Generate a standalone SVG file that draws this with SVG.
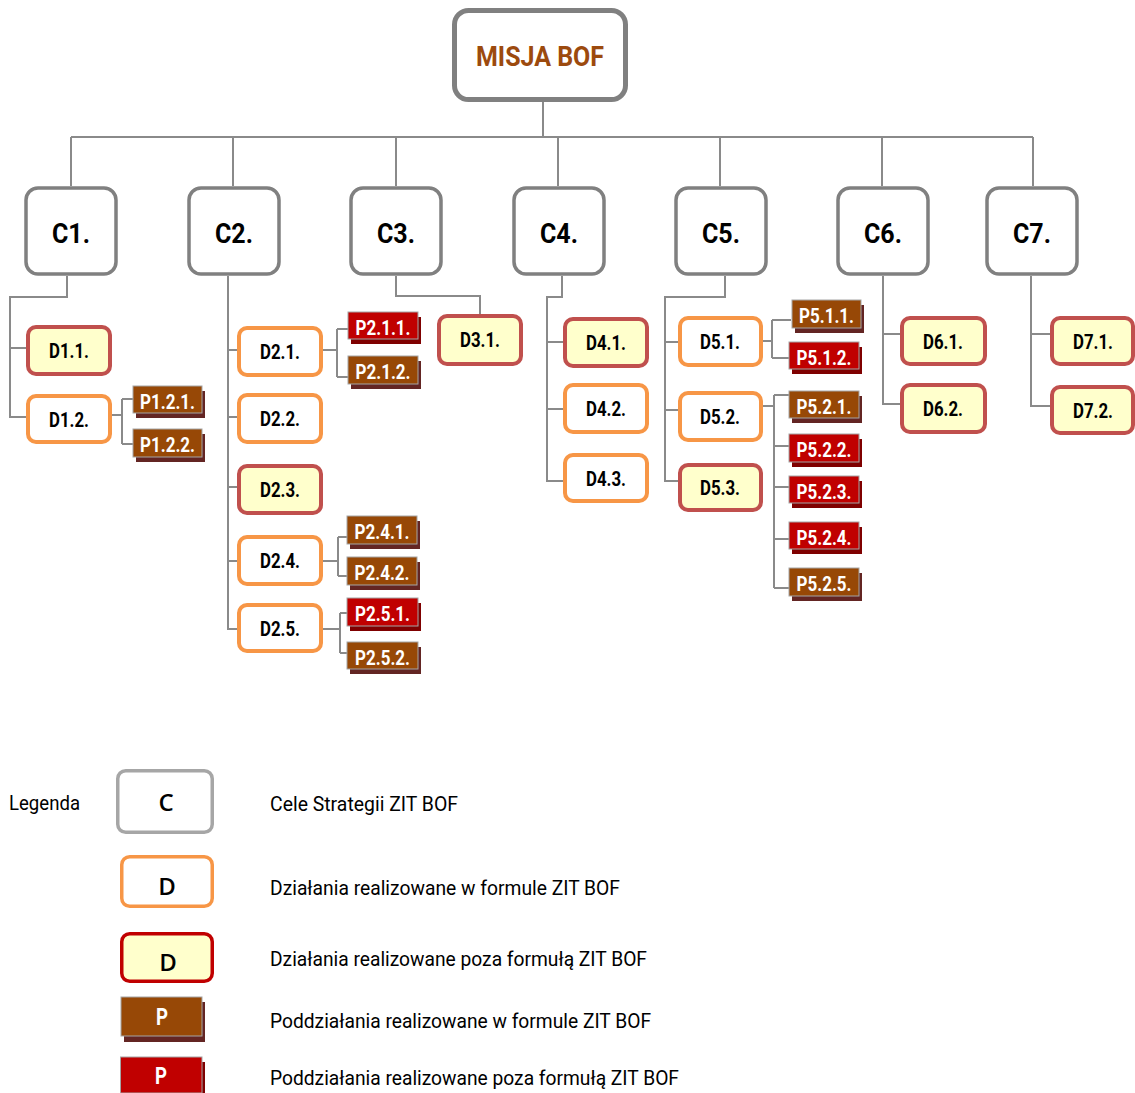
<svg xmlns="http://www.w3.org/2000/svg" width="1135" height="1093" viewBox="0 0 1135 1093">
<style>
  .conn { fill: none; stroke: #8a8a8a; stroke-width: 2; }
  .cbox { fill: #ffffff; stroke: #808080; stroke-width: 3.5; }
  .dor { fill: #ffffff; stroke: #F79646; stroke-width: 4; }
  .drd { fill: #FFFFCC; stroke: #C0504D; stroke-width: 4; }
  .pbr { fill: #974806; stroke: #A5A5A5; stroke-width: 1; }
  .prd { fill: #C00000; stroke: #A5A5A5; stroke-width: 1; }
  .sbr { fill: #632523; }
  .srd { fill: #7F0000; }
  .ct { font-family: Roboto, "Liberation Sans", sans-serif; font-weight: bold; font-size: 28px; fill: #000; text-anchor: middle; }
  .dt { font-family: Roboto, "Liberation Sans", sans-serif; font-weight: bold; font-size: 20px; fill: #000; text-anchor: middle; }
  .pt { font-family: Roboto, "Liberation Sans", sans-serif; font-weight: bold; font-size: 20px; fill: #fff; text-anchor: middle; }
  .ptl { font-family: Roboto, "Liberation Sans", sans-serif; font-weight: bold; font-size: 23px; fill: #fff; text-anchor: middle; }
  .lt { font-family: Roboto, "Liberation Sans", sans-serif; font-size: 21px; fill: #000; }
  .lg { font-family: "Open Sans", "DejaVu Sans", sans-serif; font-weight: 600; font-size: 24px; fill: #000; text-anchor: middle; }
</style>

<g id="connectors">
  <path class="conn" d="M543 101 V137 M71 137 H1033 M71 137 V186 M233 137 V186 M396 137 V186 M558 137 V186 M720 137 V186 M882 137 V186 M1033 137 V186"/>
  <path class="conn" d="M67 276 V297 H10 V417 H26 M10 348 H26"/>
  <path class="conn" d="M111 415 H122 M122 399 V444 M122 399 H133 M122 444 H133"/>
  <path class="conn" d="M228 276 V629 H237 M228 350 H237 M228 417 H237 M228 487 H237 M228 561 H237"/>
  <path class="conn" d="M323 350 H337 M337 329 V377 M337 329 H348 M337 377 H348"/>
  <path class="conn" d="M323 561 H338 M338 537 V576 M338 537 H347 M338 576 H347"/>
  <path class="conn" d="M323 629 H340 M340 613 V653 M340 613 H347 M340 653 H347"/>
  <path class="conn" d="M396 276 V296 H480 V314"/>
  <path class="conn" d="M562 276 V297 H547 V481 H563 M547 342 H563 M547 409 H563"/>
  <path class="conn" d="M725 276 V297 H665 V481 H678 M665 342 H678 M665 410 H678"/>
  <path class="conn" d="M763 341 H772 M772 320 V358 M772 320 H791 M772 358 H789"/>
  <path class="conn" d="M763 406 H774 M774 395 V588 M774 395 H789 M774 446 H789 M774 487 H789 M774 539 H789 M774 588 H789"/>
  <path class="conn" d="M883 276 V404 H900 M883 334 H900"/>
  <path class="conn" d="M1031 276 V406 H1050 M1031 334 H1050"/>
</g>

<g id="misja">
  <rect x="454.5" y="10.5" width="171" height="89" rx="14" fill="#fff" stroke="#808080" stroke-width="5"/>
  <text x="540" y="66" font-family="Roboto, 'Liberation Sans', sans-serif" font-weight="bold" font-size="28" fill="#9C4A0E" text-anchor="middle" textLength="128" lengthAdjust="spacingAndGlyphs">MISJA BOF</text>
</g>

<g id="C1"><rect class="cbox" x="26" y="188" width="90" height="86" rx="12"/><text class="ct" x="71" y="243" textLength="38" lengthAdjust="spacingAndGlyphs">C1.</text></g>
<g id="C2"><rect class="cbox" x="189" y="188" width="90" height="86" rx="12"/><text class="ct" x="234" y="243" textLength="38" lengthAdjust="spacingAndGlyphs">C2.</text></g>
<g id="C3"><rect class="cbox" x="351" y="188" width="90" height="86" rx="12"/><text class="ct" x="396" y="243" textLength="38" lengthAdjust="spacingAndGlyphs">C3.</text></g>
<g id="C4"><rect class="cbox" x="514" y="188" width="90" height="86" rx="12"/><text class="ct" x="559" y="243" textLength="38" lengthAdjust="spacingAndGlyphs">C4.</text></g>
<g id="C5"><rect class="cbox" x="676" y="188" width="90" height="86" rx="12"/><text class="ct" x="721" y="243" textLength="38" lengthAdjust="spacingAndGlyphs">C5.</text></g>
<g id="C6"><rect class="cbox" x="838" y="188" width="90" height="86" rx="12"/><text class="ct" x="883" y="243" textLength="38" lengthAdjust="spacingAndGlyphs">C6.</text></g>
<g id="C7"><rect class="cbox" x="987" y="188" width="90" height="86" rx="12"/><text class="ct" x="1032" y="243" textLength="38" lengthAdjust="spacingAndGlyphs">C7.</text></g>

<g id="D1.1"><rect class="drd" x="28" y="327" width="82" height="47" rx="8"/><text class="dt" x="69" y="358" textLength="40" lengthAdjust="spacingAndGlyphs">D1.1.</text></g>
<g id="D1.2"><rect class="dor" x="28" y="396" width="82" height="46" rx="8"/><text class="dt" x="69" y="427" textLength="40" lengthAdjust="spacingAndGlyphs">D1.2.</text></g>
<g id="D2.1"><rect class="dor" x="239" y="328" width="82" height="47" rx="8"/><text class="dt" x="280" y="359" textLength="40" lengthAdjust="spacingAndGlyphs">D2.1.</text></g>
<g id="D2.2"><rect class="dor" x="239" y="395" width="82" height="47" rx="8"/><text class="dt" x="280" y="426" textLength="40" lengthAdjust="spacingAndGlyphs">D2.2.</text></g>
<g id="D2.3"><rect class="drd" x="239" y="466" width="82" height="47" rx="8"/><text class="dt" x="280" y="497" textLength="40" lengthAdjust="spacingAndGlyphs">D2.3.</text></g>
<g id="D2.4"><rect class="dor" x="239" y="537" width="82" height="47" rx="8"/><text class="dt" x="280" y="568" textLength="40" lengthAdjust="spacingAndGlyphs">D2.4.</text></g>
<g id="D2.5"><rect class="dor" x="239" y="605" width="82" height="46" rx="8"/><text class="dt" x="280" y="636" textLength="40" lengthAdjust="spacingAndGlyphs">D2.5.</text></g>
<g id="D3.1"><rect class="drd" x="439" y="316" width="82" height="48" rx="8"/><text class="dt" x="480" y="347" textLength="40" lengthAdjust="spacingAndGlyphs">D3.1.</text></g>
<g id="D4.1"><rect class="drd" x="565" y="319" width="82" height="47" rx="8"/><text class="dt" x="606" y="350" textLength="40" lengthAdjust="spacingAndGlyphs">D4.1.</text></g>
<g id="D4.2"><rect class="dor" x="565" y="385" width="82" height="47" rx="8"/><text class="dt" x="606" y="416" textLength="40" lengthAdjust="spacingAndGlyphs">D4.2.</text></g>
<g id="D4.3"><rect class="dor" x="565" y="455" width="82" height="46" rx="8"/><text class="dt" x="606" y="486" textLength="40" lengthAdjust="spacingAndGlyphs">D4.3.</text></g>
<g id="D5.1"><rect class="dor" x="680" y="318" width="81" height="47" rx="8"/><text class="dt" x="720" y="349" textLength="40" lengthAdjust="spacingAndGlyphs">D5.1.</text></g>
<g id="D5.2"><rect class="dor" x="680" y="393" width="81" height="47" rx="8"/><text class="dt" x="720" y="424" textLength="40" lengthAdjust="spacingAndGlyphs">D5.2.</text></g>
<g id="D5.3"><rect class="drd" x="680" y="465" width="81" height="45" rx="8"/><text class="dt" x="720" y="495" textLength="40" lengthAdjust="spacingAndGlyphs">D5.3.</text></g>
<g id="D6.1"><rect class="drd" x="902" y="318" width="83" height="46" rx="8"/><text class="dt" x="943" y="349" textLength="40" lengthAdjust="spacingAndGlyphs">D6.1.</text></g>
<g id="D6.2"><rect class="drd" x="902" y="385" width="83" height="47" rx="8"/><text class="dt" x="943" y="416" textLength="40" lengthAdjust="spacingAndGlyphs">D6.2.</text></g>
<g id="D7.1"><rect class="drd" x="1052" y="318" width="81" height="46" rx="8"/><text class="dt" x="1093" y="349" textLength="40" lengthAdjust="spacingAndGlyphs">D7.1.</text></g>
<g id="D7.2"><rect class="drd" x="1052" y="387" width="81" height="46" rx="8"/><text class="dt" x="1093" y="418" textLength="40" lengthAdjust="spacingAndGlyphs">D7.2.</text></g>

<g id="P1.2.1"><rect class="sbr" x="136" y="391" width="69" height="27"/><rect class="pbr" x="133" y="386" width="69" height="27"/><text class="pt" x="167.5" y="408.5" textLength="55" lengthAdjust="spacingAndGlyphs">P1.2.1.</text></g>
<g id="P1.2.2"><rect class="sbr" x="136" y="434" width="69" height="28"/><rect class="pbr" x="133" y="429" width="69" height="28"/><text class="pt" x="167.5" y="451.5" textLength="55" lengthAdjust="spacingAndGlyphs">P1.2.2.</text></g>
<g id="P2.1.1"><rect class="srd" x="351" y="317" width="70" height="27"/><rect class="prd" x="348" y="312" width="70" height="27"/><text class="pt" x="383" y="334.5" textLength="55" lengthAdjust="spacingAndGlyphs">P2.1.1.</text></g>
<g id="P2.1.2"><rect class="sbr" x="351" y="361" width="70" height="28"/><rect class="pbr" x="348" y="356" width="70" height="28"/><text class="pt" x="383" y="378.5" textLength="55" lengthAdjust="spacingAndGlyphs">P2.1.2.</text></g>
<g id="P2.4.1"><rect class="sbr" x="350" y="521" width="70" height="28"/><rect class="pbr" x="347" y="516" width="70" height="28"/><text class="pt" x="382" y="538.5" textLength="55" lengthAdjust="spacingAndGlyphs">P2.4.1.</text></g>
<g id="P2.4.2"><rect class="sbr" x="350" y="562" width="70" height="28"/><rect class="pbr" x="347" y="557" width="70" height="28"/><text class="pt" x="382" y="579.5" textLength="55" lengthAdjust="spacingAndGlyphs">P2.4.2.</text></g>
<g id="P2.5.1"><rect class="srd" x="350" y="603" width="71" height="28"/><rect class="prd" x="347" y="598" width="71" height="28"/><text class="pt" x="382.5" y="620.5" textLength="55" lengthAdjust="spacingAndGlyphs">P2.5.1.</text></g>
<g id="P2.5.2"><rect class="sbr" x="350" y="647" width="71" height="27"/><rect class="pbr" x="347" y="642" width="71" height="27"/><text class="pt" x="382.5" y="664.5" textLength="55" lengthAdjust="spacingAndGlyphs">P2.5.2.</text></g>
<g id="P5.1.1"><rect class="sbr" x="795" y="305" width="69" height="28"/><rect class="pbr" x="792" y="300" width="69" height="28"/><text class="pt" x="826.5" y="322.5" textLength="55" lengthAdjust="spacingAndGlyphs">P5.1.1.</text></g>
<g id="P5.1.2"><rect class="srd" x="792" y="347" width="70" height="27"/><rect class="prd" x="789" y="342" width="70" height="27"/><text class="pt" x="824" y="364.5" textLength="55" lengthAdjust="spacingAndGlyphs">P5.1.2.</text></g>
<g id="P5.2.1"><rect class="sbr" x="792" y="396" width="70" height="27"/><rect class="pbr" x="789" y="391" width="70" height="27"/><text class="pt" x="824" y="413.5" textLength="55" lengthAdjust="spacingAndGlyphs">P5.2.1.</text></g>
<g id="P5.2.2"><rect class="srd" x="792" y="439" width="70" height="28"/><rect class="prd" x="789" y="434" width="70" height="28"/><text class="pt" x="824" y="456.5" textLength="55" lengthAdjust="spacingAndGlyphs">P5.2.2.</text></g>
<g id="P5.2.3"><rect class="srd" x="792" y="481" width="70" height="27"/><rect class="prd" x="789" y="476" width="70" height="27"/><text class="pt" x="824" y="498.5" textLength="55" lengthAdjust="spacingAndGlyphs">P5.2.3.</text></g>
<g id="P5.2.4"><rect class="srd" x="792" y="527" width="70" height="27"/><rect class="prd" x="789" y="522" width="70" height="27"/><text class="pt" x="824" y="544.5" textLength="55" lengthAdjust="spacingAndGlyphs">P5.2.4.</text></g>
<g id="P5.2.5"><rect class="sbr" x="792" y="573" width="70" height="28"/><rect class="pbr" x="789" y="568" width="70" height="28"/><text class="pt" x="824" y="590.5" textLength="55" lengthAdjust="spacingAndGlyphs">P5.2.5.</text></g>

<g id="legend">
  <text class="lt" x="9" y="810" textLength="71" lengthAdjust="spacingAndGlyphs">Legenda</text>
  <rect x="117.75" y="770.75" width="94.5" height="61.5" rx="8" fill="#fff" stroke="#A6A6A6" stroke-width="3.5"/>
  <text class="lg" x="166" y="811">C</text>
  <rect x="121.75" y="856.75" width="90.5" height="49.5" rx="8" fill="#fff" stroke="#F79646" stroke-width="3.5"/>
  <text class="lg" x="167" y="895">D</text>
  <rect x="121.75" y="933.75" width="90.5" height="47.5" rx="8" fill="#FFFFCC" stroke="#C00000" stroke-width="3.5"/>
  <text class="lg" x="168" y="971">D</text>
  <rect class="sbr" x="124" y="1002" width="81" height="40"/>
  <rect class="pbr" x="121" y="997" width="81" height="39"/>
  <text class="ptl" x="162" y="1025" textLength="12" lengthAdjust="spacingAndGlyphs">P</text>
  <rect class="srd" x="124" y="1062" width="81" height="36"/>
  <rect class="prd" x="120.5" y="1057" width="81.5" height="36"/>
  <text class="ptl" x="161" y="1084" textLength="12" lengthAdjust="spacingAndGlyphs">P</text>
  <text class="lt" x="270" y="811" textLength="188" lengthAdjust="spacingAndGlyphs">Cele Strategii ZIT BOF</text>
  <text class="lt" x="270" y="895" textLength="350" lengthAdjust="spacingAndGlyphs">Działania realizowane w formule ZIT BOF</text>
  <text class="lt" x="270" y="966" textLength="377" lengthAdjust="spacingAndGlyphs">Działania realizowane poza formułą ZIT BOF</text>
  <text class="lt" x="270" y="1028" textLength="381" lengthAdjust="spacingAndGlyphs">Poddziałania realizowane w formule ZIT BOF</text>
  <text class="lt" x="270" y="1085" textLength="409" lengthAdjust="spacingAndGlyphs">Poddziałania realizowane poza formułą ZIT BOF</text>
</g>
</svg>
